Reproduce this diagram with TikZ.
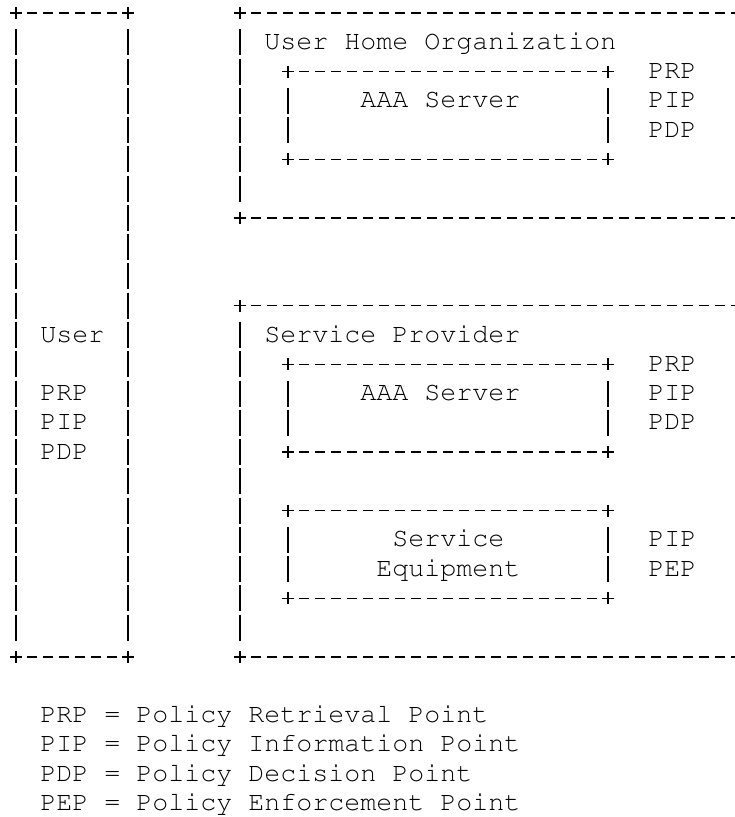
\documentclass[tikz,border=0pt]{standalone}
\usepackage[T1]{fontenc}
\usepackage{courier}
\usepackage{tikz}
\pgfdeclarelayer{bg}
\pgfsetlayers{bg,main}
\tikzset{
        txt/.style={anchor=base west, inner sep=0pt, font=\ttfamily\fontsize{20pt}{21.95pt}\selectfont},
        hrule/.style={line width=1.1pt, dash pattern=on 7.875pt off 4.125pt},
        vrule/.style={line width=1.1pt, dash pattern=on 19.5pt off 2.45pt},
        crosspt/.pic={\draw[line width=1.1pt] (-0.375,0) -- (0.375,0) (0,-0.205) -- (0,0.205);}
}

\begin{document}
\begin{tikzpicture}[x=12pt, y=-21.95pt]
        \useasboundingbox (-1,-0.444) rectangle (44.875,27.468);
        \clip (-1,-0.444) rectangle (44.875,27.468);
        \node (home) [txt] at (15.5, 1.24) {User Home Organization};
        \node (homeaaa) [txt] at (21.5, 3.24) {AAA Server};
        \node (homeprp) [txt] at (39.5, 2.24) {PRP};
        \node (homepip) [txt] at (39.5, 3.24) {PIP};
        \node (homepdp) [txt] at (39.5, 4.24) {PDP};
        \node (user) [txt] at (1.5, 11.24) {User};
        \node (userprp) [txt] at (1.5, 13.24) {PRP};
        \node (userpip) [txt] at (1.5, 14.24) {PIP};
        \node (userpdp) [txt] at (1.5, 15.24) {PDP};
        \node (sp) [txt] at (15.5, 11.24) {Service Provider};
        \node (spaaa) [txt] at (21.5, 13.24) {AAA Server};
        \node (spprp) [txt] at (39.5, 12.24) {PRP};
        \node (sppip) [txt] at (39.5, 13.24) {PIP};
        \node (sppdp) [txt] at (39.5, 14.24) {PDP};
        \node (equipa) [txt] at (23.5, 18.24) {Service};
        \node (equipb) [txt] at (22.5, 19.24) {Equipment};
        \node (equippip) [txt] at (39.5, 18.24) {PIP};
        \node (equippep) [txt] at (39.5, 19.24) {PEP};
        \node (keyprp) [txt] at (1.5, 24.24) {PRP = Policy Retrieval Point};
        \node (keypip) [txt] at (1.5, 25.24) {PIP = Policy Information Point};
        \node (keypdp) [txt] at (1.5, 26.24) {PDP = Policy Decision Point};
        \node (keypep) [txt] at (1.5, 27.24) {PEP = Policy Enforcement Point};
        \begin{pgfonlayer}{bg}
                \pic at (0,0) {crosspt};
                \pic at (7,0) {crosspt};
                \pic at (0,22) {crosspt};
                \pic at (7,22) {crosspt};
                \draw[hrule] (0.672,0) -- (6.328,0);
                \draw[hrule] (0.672,22) -- (6.328,22);
                \draw[vrule] (0,0.556) -- (0,21.444);
                \draw[vrule] (7,0.556) -- (7,21.444);
                \pic at (14,0) {crosspt};
                \pic at (14,7) {crosspt};
                \draw[hrule] (14.672,0) -- (46,0);
                \draw[hrule] (14.672,7) -- (46,7);
                \draw[vrule] (14,0.556) -- (14,6.444);
                \pic at (17,2) {crosspt};
                \pic at (37,2) {crosspt};
                \pic at (17,5) {crosspt};
                \pic at (37,5) {crosspt};
                \draw[hrule] (17.672,2) -- (36.328,2);
                \draw[hrule] (17.672,5) -- (36.328,5);
                \draw[vrule] (17,2.556) -- (17,4.444);
                \draw[vrule] (37,2.556) -- (37,4.444);
                \pic at (14,10) {crosspt};
                \pic at (14,22) {crosspt};
                \draw[hrule] (14.672,10) -- (46,10);
                \draw[hrule] (14.672,22) -- (46,22);
                \draw[vrule] (14,10.556) -- (14,21.444);
                \pic at (17,12) {crosspt};
                \pic at (37,12) {crosspt};
                \pic at (17,15) {crosspt};
                \pic at (37,15) {crosspt};
                \draw[hrule] (17.672,12) -- (36.328,12);
                \draw[hrule] (17.672,15) -- (36.328,15);
                \draw[vrule] (17,12.556) -- (17,14.444);
                \draw[vrule] (37,12.556) -- (37,14.444);
                \pic at (17,17) {crosspt};
                \pic at (37,17) {crosspt};
                \pic at (17,20) {crosspt};
                \pic at (37,20) {crosspt};
                \draw[hrule] (17.672,17) -- (36.328,17);
                \draw[hrule] (17.672,20) -- (36.328,20);
                \draw[vrule] (17,17.556) -- (17,19.444);
                \draw[vrule] (37,17.556) -- (37,19.444);
        \end{pgfonlayer}
\end{tikzpicture}
\end{document}
